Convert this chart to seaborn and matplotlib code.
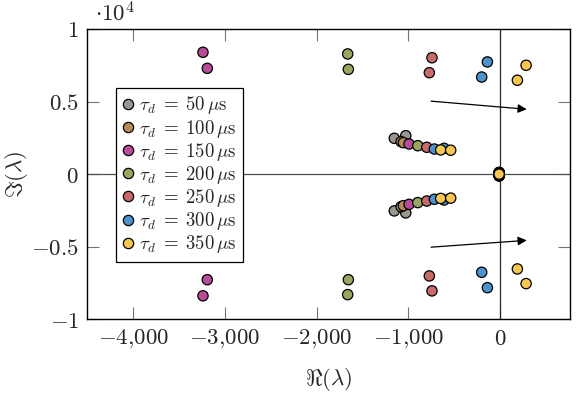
import numpy as np
import pandas as pd
import seaborn as sns
import matplotlib
matplotlib.use("Agg")
import matplotlib.pyplot as plt
from matplotlib.ticker import FuncFormatter, FixedLocator

# delays (us) and their colours
delays = [50, 100, 150, 200, 250, 300, 350]
colors = ["#979790", "#b58c55", "#b84c9b", "#9ba55f", "#c66a6a", "#4c92cd", "#f5c651"]

re_50 = [-1153, -1028, -1153, -1028, -10, -10]
im_50 = [2470, 2650, -2530, -2670, 120, -120]
re_100 = [-1079, -1054, -1079, -1054, -10, -10]
im_100 = [2240, 2170, -2240, -2170, 110, -110]
re_150 = [-3239, -3192, -992, -3192, -3239, -992, -10, -10]
im_150 = [8395, 7290, 2080, -7270, -8380, -2080, 100, -100]
re_200 = [-1661, -1654, -897, -1654, -1661, -897, -10, -10]
im_200 = [8280, 7220, 1960, -7270, -8300, -1960, 90, -90]
re_250 = [-742, -771, -799, -771, -742, -799, -10, -10]
im_250 = [8020, 6990, 1850, -7010, -8040, -1850, 80, -80]
re_300 = [-138, -200, -716, -610, -200, -138, -716, -610, -10, -10]
im_300 = [7730, 6690, 1730, 1780, -6760, -7820, -1730, -1780, 70, -70]
re_350 = [284, 189, -647, -538, 189, 284, -647, -538, -10, -10, -10]
im_350 = [7500, 6470, 1670, 1650, -6530, -7540, -1670, -1650, 50, -50, 0]

re_all = [re_50, re_100, re_150, re_200, re_250, re_300, re_350]
im_all = [im_50, im_100, im_150, im_200, im_250, im_300, im_350]

xticks = [-4000, -3000, -2000, -1000, 0]
yticks = [-10000, -5000, 0, 5000, 10000]

labels = [r"$\tau_d\;=\;%d\,\mu\mathrm{s}$" % d for d in delays]

rows = []
for lab, re, im in zip(labels, re_all, im_all):
    for r, i in zip(re, im):
        rows.append({"re": r, "im": i, "delay": lab})
df = pd.DataFrame(rows)

sns.set_style("ticks")
plt.rcParams["font.family"] = ["DejaVu Serif"]
plt.rcParams["mathtext.fontset"] = "cm"

fig = plt.figure(figsize=(5.79, 3.95), dpi=100)
ax = fig.add_axes([0.1508, 0.1916, 0.8337, 0.735])

ax.axhline(0, color="0.3", lw=0.9, zorder=1)
ax.axvline(0, color="0.15", lw=0.9, zorder=1)

sns.scatterplot(data=df, x="re", y="im", hue="delay", hue_order=labels,
                palette=colors, s=55, edgecolor="black", linewidth=0.9,
                alpha=1, ax=ax, zorder=3)

# arrows
ax.annotate("", xy=(291, 4470), xytext=(-752, 5030),
            arrowprops=dict(arrowstyle="-|>", color="black", lw=0.9,
                            mutation_scale=13, shrinkA=0, shrinkB=0))
ax.annotate("", xy=(291, -4560), xytext=(-752, -5030),
            arrowprops=dict(arrowstyle="-|>", color="black", lw=0.9,
                            mutation_scale=13, shrinkA=0, shrinkB=0))

ax.set_xlim(-4500, 763)
ax.set_ylim(-10000, 10000)
ax.xaxis.set_major_locator(FixedLocator(xticks))
ax.yaxis.set_major_locator(FixedLocator(yticks))

def fmt_x(v, pos):
    v = int(round(v))
    if v == 0:
        return "$0$"
    s = "{:,}".format(abs(v)).replace(",", "{,}")
    return "$-%s$" % s if v < 0 else "$%s$" % s

def fmt_y(v, pos):
    v = v / 10000
    if abs(v) < 1e-9:
        return "$0$"
    s = "%g" % abs(v)
    return "$-%s$" % s if v < 0 else "$%s$" % s

ax.xaxis.set_major_formatter(FuncFormatter(fmt_x))
ax.yaxis.set_major_formatter(FuncFormatter(fmt_y))
ax.tick_params(direction="in", length=8.6, width=0.8, color="0.45",
               labelsize=16.5, top=True, right=True, pad=6)
for sp in ax.spines.values():
    sp.set_linewidth(1.0)
    sp.set_color("black")

ax.set_xlabel(r"$\Re(\lambda)$", fontsize=16.5, labelpad=11)
ax.set_ylabel(r"$\Im(\lambda)$", fontsize=16.5, labelpad=1)
ax.text(0.015, 1.008, r"$\cdot 10^4$", transform=ax.transAxes, fontsize=16.5,
        ha="left", va="bottom")

handles, labs = ax.get_legend_handles_labels()
leg = ax.legend(handles, labs, loc="upper left", bbox_to_anchor=(0.059, 0.797),
                fontsize=13.5, frameon=True, fancybox=False, edgecolor="black",
                framealpha=1, borderpad=0.35, labelspacing=0.06,
                handlelength=0.6, handletextpad=0.3, borderaxespad=0)
leg.get_frame().set_linewidth(0.9)

fig.savefig("out.png", dpi=100)
